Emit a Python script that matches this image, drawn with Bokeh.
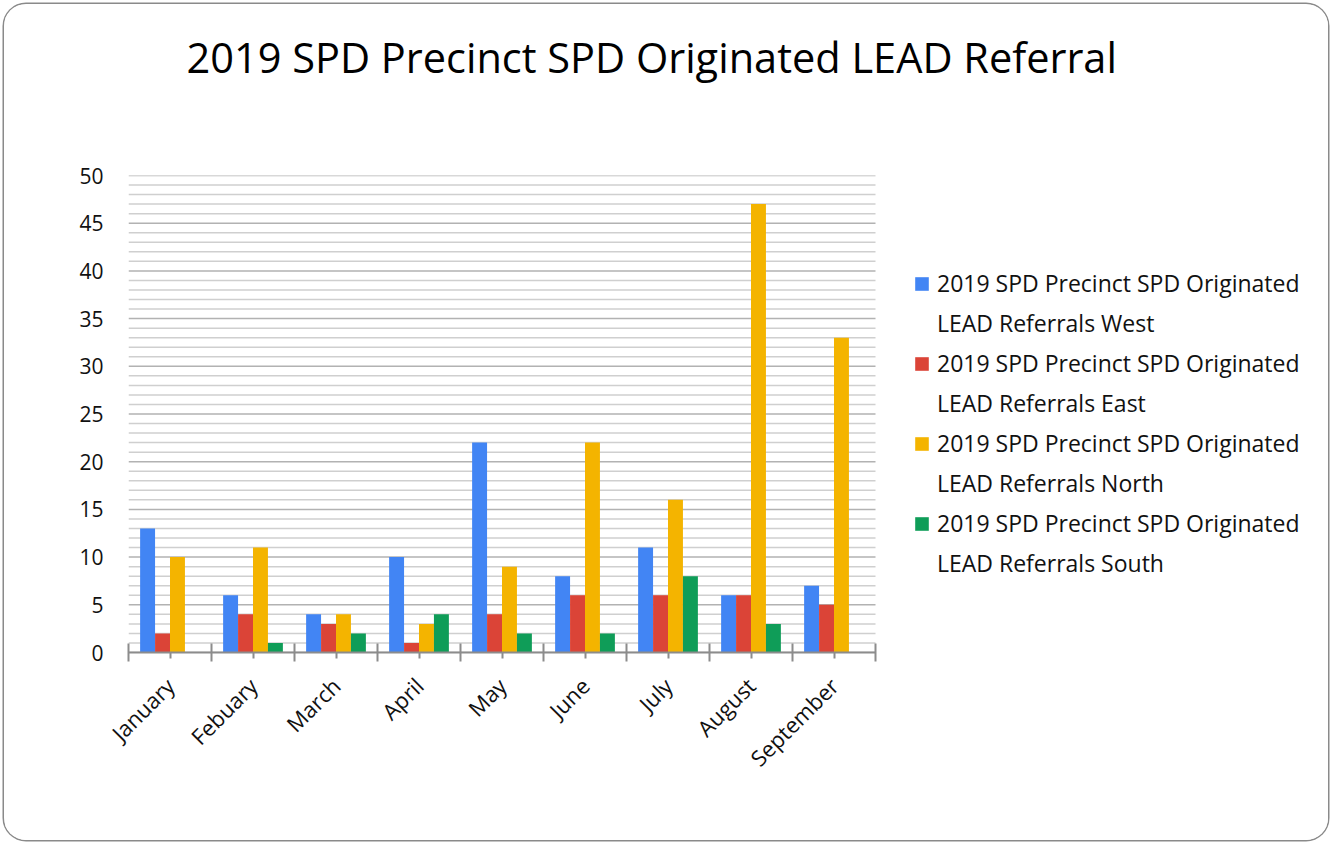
import math
from bokeh.plotting import figure
from bokeh.models import (Range1d, LinearAxis, FixedTicker, SingleIntervalTicker, Title,
                          Legend, LegendItem, ColumnDataSource, InlineStyleSheet)
from bokeh.transform import dodge
from bokeh.embed import file_html
from bokeh.resources import INLINE

# ---------------- data ----------------
months = ["January", "Febuary", "March", "April", "May", "June", "July", "August", "September"]
west = [13, 6, 4, 10, 22, 8, 11, 6, 7]
east = [2, 4, 3, 1, 4, 6, 6, 6, 5]
north = [10, 11, 4, 3, 9, 22, 16, 47, 33]
south = [0, 1, 2, 4, 2, 2, 8, 3, 0]
series_names = [
    "2019 SPD Precinct SPD Originated LEAD Referrals West",
    "2019 SPD Precinct SPD Originated LEAD Referrals East",
    "2019 SPD Precinct SPD Originated LEAD Referrals North",
    "2019 SPD Precinct SPD Originated LEAD Referrals South",
]
title_text = "2019 SPD Precinct SPD Originated LEAD Referral"
y_max = 50
y_major_step = 5

# ---------------- style / layout ----------------
colors = ["#4285F4", "#DB4437", "#F4B400", "#0F9D58"]
FONT = "Open Sans"
W, H = 1324, 836
FL, FT, FB, FRB = 124, 171, 188, 10
BARS_W = 747                       # pixel width of the bar area
FRAME_W = W - FL - FRB             # frame also holds the legend on the right
x_end = len(months) * FRAME_W / BARS_W

centers = [i + 0.5 for i in range(len(months))]
src = ColumnDataSource(dict(pos=centers, months=months, west=west, east=east, north=north, south=south))

p = figure(width=W, height=H,
           x_range=Range1d(0, x_end), y_range=Range1d(0, y_max),
           output_backend="svg", toolbar_location=None,
           x_axis_location=None, y_axis_location=None,
           min_border_left=FL, min_border_right=FRB,
           min_border_top=FT, min_border_bottom=FB)
p.outline_line_color = None
p.background_fill_color = "white"
p.border_fill_color = "white"
p.grid.visible = False

# horizontal gridlines limited to the bar area
levels = list(range(0, y_max + 1))
major_levels = [v for v in levels if v % y_major_step == 0]
minor_levels = [v for v in levels if v % y_major_step != 0]
n = len(months)
p.segment(x0=[0] * len(minor_levels), x1=[n] * len(minor_levels), y0=minor_levels, y1=minor_levels,
          line_color="#cfcfcf", line_width=1.5)
p.segment(x0=[0] * len(major_levels), x1=[n] * len(major_levels), y0=major_levels, y1=major_levels,
          line_color="#b2b2b2", line_width=1.5)

yticker = SingleIntervalTicker(interval=y_major_step, num_minor_ticks=5)
yaxis = LinearAxis(ticker=yticker, axis_line_color=None,
                   major_tick_line_color=None, minor_tick_line_color=None,
                   major_tick_in=0, major_tick_out=0, minor_tick_in=0, minor_tick_out=0,
                   major_label_text_font=FONT, major_label_text_font_size="21px",
                   major_label_text_color="#111111", major_label_standoff=25)
p.add_layout(yaxis, "left")

xaxis = LinearAxis(ticker=FixedTicker(ticks=centers, minor_ticks=list(range(n + 1))),
                   bounds=(0, n),
                   major_label_overrides={c: m for c, m in zip(centers, months)},
                   axis_line_color="#8c8c8c", axis_line_width=2,
                   major_tick_line_color="#8c8c8c", major_tick_line_width=2,
                   minor_tick_line_color="#8c8c8c", minor_tick_line_width=2,
                   major_tick_in=0, major_tick_out=6, minor_tick_in=9, minor_tick_out=9,
                   major_label_orientation=math.pi / 4,
                   major_label_text_font=FONT, major_label_text_font_size="22px",
                   major_label_text_color="#111111", major_label_standoff=20)
p.add_layout(xaxis, "below")

renderers = []
for col, off, color in zip(["west", "east", "north", "south"], [-0.27, -0.09, 0.09, 0.27], colors):
    r = p.vbar(x=dodge("pos", off), top=col, width=0.18,
               source=src, fill_color=color, line_color=None)
    renderers.append(r)

# each series name is wrapped over two legend rows; the swatch sits on the first row
items = []
for name, r in zip(series_names, renderers):
    cut = name.index("LEAD")
    items.append(LegendItem(label=name[:cut].strip(), renderers=[r]))
    items.append(LegendItem(label=name[cut:], renderers=[]))
legend = Legend(items=items, location=(785, 73),
                label_text_font=FONT, label_text_font_size="23px", label_text_color="#111111",
                label_text_line_height=1.0, label_height=32,
                glyph_width=17, glyph_height=17, label_standoff=7, spacing=8,
                padding=0, margin=0, border_line_color=None, background_fill_alpha=0)
p.add_layout(legend)

# spacer between the frame and the title
p.add_layout(Title(text=" ", text_font_size="2px", standoff=62), "above")

p.title.text = title_text
p.title.text_font = FONT
p.title.text_font_size = "41.5px"
p.title.text_font_style = "normal"
p.title.text_color = "#000000"
p.title.align = "left"
p.title.vertical_align = "top"
p.title.offset = 58
p.title.standoff = 46

p.stylesheets = [InlineStyleSheet(css=":host { margin: 4px 0 0 4px; box-shadow: 0 0 0 1.5px #8a8a8a; "
                                      "border-radius: 22px; overflow: hidden; }")]

open("out.html", "w").write(file_html(p, INLINE))
